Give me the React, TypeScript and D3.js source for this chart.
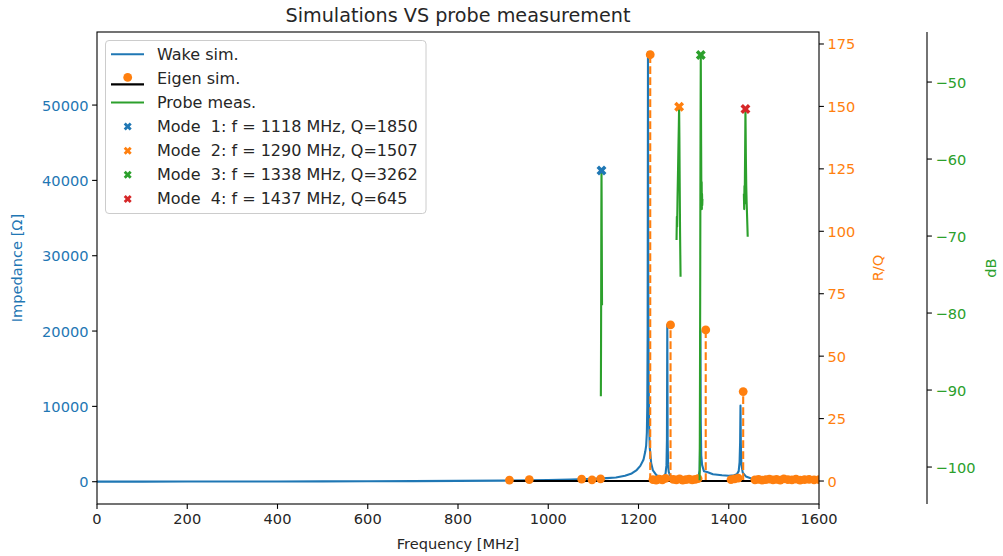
import React from "react";
import * as d3 from "d3";

// ---------- data ----------
const wakeFreq = [0, 100, 200, 300, 400, 500, 600, 700, 800, 900, 1000, 1050, 1100, 1130, 1150, 1170, 1185, 1196, 1204, 1211, 1215, 1217, 1218.5, 1219.5, 1220.3, 1221, 1221.7, 1222.5, 1223.5, 1225, 1228, 1232, 1240, 1250, 1256, 1260, 1262, 1263, 1263.8, 1264.6, 1265.6, 1267, 1270, 1278, 1290, 1305, 1320, 1328, 1333, 1335.5, 1336.6, 1337.3, 1338.0, 1339.0, 1341, 1345, 1352, 1365, 1385, 1400, 1412, 1418, 1422, 1424, 1425.2, 1426, 1426.8, 1428, 1431, 1438, 1450, 1480, 1520, 1560, 1600];
const wakeZ = [10, 15, 20, 25, 35, 45, 60, 80, 105, 145, 210, 270, 380, 480, 560, 800, 1100, 1550, 2100, 2900, 4000, 4800, 6500, 10000, 20000, 57000, 26000, 13000, 7500, 4500, 2500, 1500, 850, 600, 700, 1100, 2200, 5500, 20800, 5600, 2300, 1300, 800, 500, 380, 350, 400, 450, 700, 1500, 5000, 20000, 8000, 3500, 2200, 1400, 1300, 1000, 850, 800, 850, 1000, 1400, 2600, 5200, 10100, 5000, 2300, 1200, 700, 420, 260, 180, 140, 120];

const eigenFreq = [914, 958, 1074, 1097, 1116, 1226, 1232, 1239, 1246, 1253, 1260, 1271, 1277, 1284, 1291, 1298, 1305, 1312, 1319, 1326, 1332, 1349, 1405, 1413, 1421, 1432, 1458, 1466, 1474, 1482, 1490, 1498, 1506, 1514, 1522, 1531, 1540, 1549, 1558, 1568, 1578, 1589, 1600];
const eigenRQ = [0.4, 0.6, 0.8, 0.5, 0.9, 170.7, 0.6, 0.4, 0.8, 0.5, 1.1, 62.5, 0.7, 0.5, 0.9, 0.4, 0.6, 0.8, 0.5, 0.7, 1.0, 60.5, 0.6, 0.9, 1.2, 35.8, 0.5, 0.7, 0.4, 0.6, 0.8, 0.5, 0.7, 0.4, 0.9, 0.6, 0.5, 0.8, 0.4, 0.6, 0.7, 0.5, 0.6];

const probe1Freq = [1116.6, 1117.0, 1117.3, 1117.6, 1118.0, 1118.3, 1118.6, 1118.9, 1119.2];
const probe1Db = [-90.8, -84, -77, -68, -61.5, -65, -70, -74.5, -79];
const probe2Freq = [1284.3, 1285.0, 1285.6, 1286.5, 1287.6, 1288.6, 1289.4, 1290.0, 1290.6, 1291.3, 1292.1, 1293.2];
const probe2Db = [-70.5, -67.5, -68.8, -65, -61.5, -58, -55.5, -53.2, -57, -63, -69.5, -75.3];
const probe3Freq = [1335.5, 1335.9, 1336.3, 1336.7, 1337.1, 1337.5, 1338.0, 1338.4, 1338.8, 1339.2, 1339.6, 1340.0, 1340.4, 1340.8, 1341.3, 1341.7];
const probe3Db = [-101.7, -96, -88, -78, -66, -55, -46.5, -52, -58, -63, -65.5, -63, -66.5, -64.5, -66, -65.2];
const probe4Freq = [1433.5, 1434.2, 1434.8, 1435.3, 1435.8, 1436.3, 1436.7, 1437.0, 1437.4, 1438.0, 1438.8, 1439.6, 1440.4, 1441.2, 1442.0];
const probe4Db = [-64.5, -66.5, -63.5, -65.8, -62.5, -59, -56, -53.5, -56, -60, -63.5, -65.5, -67, -68.5, -70.1];

const modeFreq = [1118, 1290, 1338, 1437];
const modeDb = [-61.5, -53.2, -46.5, -53.5];
const modeQ = [1850, 1507, 3262, 645];
const modeColors = ["#1f77b4", "#ff7f0e", "#2ca02c", "#d62728"];

const xTicks = [0, 200, 400, 600, 800, 1000, 1200, 1400, 1600];
const zTicks = [0, 10000, 20000, 30000, 40000, 50000];
const rqTicks = [0, 25, 50, 75, 100, 125, 150, 175];
const dbTicks = [-100, -90, -80, -70, -60, -50];

// ---------- layout ----------
const W = 1003, H = 556;
const L = 97, R = 819, T = 32, B = 504;
const DB_SPINE = 927;
const C0 = "#1f77b4", C1 = "#ff7f0e", C2 = "#2ca02c";
const FONT = "DejaVu Sans, sans-serif";
const TICK_FS = 14.6;
const LEG_FS = 16;
const TICK_LEN = 4.9;

const x = d3.scaleLinear().domain([0, 1600]).range([L, R]);
const yZ = d3.scaleLinear().domain([-2960, 59700]).range([B, T]);
const yRQ = d3.scaleLinear().domain([-9.2, 179.8]).range([B, T]);
const yDB = d3.scaleLinear().domain([-104.8, -43.5]).range([B, T]);

const xSymbol = (size: number) => d3.symbol().type(d3.symbolCross).size(size)();

export default function App() {
  const wakeLine = d3.line<number>().x((_, i) => x(wakeFreq[i])).y((d) => yZ(d))(wakeZ) || "";
  const probes = [
    [probe1Freq, probe1Db],
    [probe2Freq, probe2Db],
    [probe3Freq, probe3Db],
    [probe4Freq, probe4Db],
  ].map(([f, v]) => d3.line<number>().x((_, i) => x(f[i])).y((d) => yDB(d))(v) || "");
  const eMin = d3.min(eigenFreq) as number;
  const eMax = d3.max(eigenFreq) as number;
  const legendRows = [54.3, 78.4, 102.5, 126.6, 150.7, 174.8, 198.9];
  const modeText = modeFreq.map((f, i) => `Mode  ${i + 1}: f = ${f} MHz, Q=${modeQ[i]}`);
  const X_SIZE = 62;

  return (
    <svg width={W} height={H} style={{ position: "absolute", left: 0, top: 0, background: "#fff" }} fontFamily={FONT}>
      <defs>
        <clipPath id="plotclip">
          <rect x={L} y={T} width={R - L} height={B - T} />
        </clipPath>
      </defs>
      <rect x={0} y={0} width={W} height={H} fill="#fff" />
      <g clipPath="url(#plotclip)">
        {/* wake sim */}
        <path d={wakeLine} fill="none" stroke={C0} strokeWidth={2.1} strokeLinejoin="round" />
        {/* eigen stems */}
        {eigenFreq.map((f, i) => (
          <line key={"s" + i} x1={x(f)} x2={x(f)} y1={yRQ(0)} y2={yRQ(eigenRQ[i])} stroke={C1} strokeWidth={2.1} strokeDasharray="7.7,3.3" />
        ))}
        <line x1={x(eMin)} x2={x(eMax)} y1={yRQ(0)} y2={yRQ(0)} stroke="#000" strokeWidth={2.1} />
        {eigenFreq.map((f, i) => (
          <circle key={"m" + i} cx={x(f)} cy={yRQ(eigenRQ[i])} r={4.4} fill={C1} />
        ))}
        {/* probe */}
        {probes.map((d, i) => (
          <path key={"p" + i} d={d} fill="none" stroke={C2} strokeWidth={2.1} strokeLinejoin="round" />
        ))}
        {modeFreq.map((f, i) => (
          <path key={"x" + i} d={xSymbol(X_SIZE) || ""} transform={`translate(${x(f)},${yDB(modeDb[i])}) rotate(45)`} fill={modeColors[i]} />
        ))}
      </g>

      {/* frame */}
      <rect x={L} y={T} width={R - L} height={B - T} fill="none" stroke="#000" strokeWidth={1.1} />
      <line x1={DB_SPINE} x2={DB_SPINE} y1={T} y2={B} stroke="#000" strokeWidth={1.1} />

      {/* x axis */}
      {xTicks.map((t) => (
        <g key={"xt" + t}>
          <line x1={x(t)} x2={x(t)} y1={B} y2={B + TICK_LEN} stroke="#000" strokeWidth={1.1} />
          <text x={x(t)} y={B + 8.5} textAnchor="middle" dominantBaseline="hanging" fontSize={TICK_FS} fill="#262626">{t}</text>
        </g>
      ))}
      <text x={(L + R) / 2} y={543} textAnchor="middle" dominantBaseline="central" fontSize={TICK_FS} fill="#262626">Frequency [MHz]</text>

      {/* left axis */}
      {zTicks.map((t) => (
        <g key={"zt" + t}>
          <line x1={L - TICK_LEN} x2={L} y1={yZ(t)} y2={yZ(t)} stroke="#000" strokeWidth={1.1} />
          <text x={L - 8.5} y={yZ(t)} textAnchor="end" dominantBaseline="central" fontSize={TICK_FS} fill={C0}>{t}</text>
        </g>
      ))}
      <text transform={`translate(16,${(T + B) / 2}) rotate(-90)`} textAnchor="middle" dominantBaseline="central" fontSize={TICK_FS} fill={C0}>Impedance [Ω]</text>

      {/* R/Q axis */}
      {rqTicks.map((t) => (
        <g key={"rq" + t}>
          <line x1={R} x2={R + TICK_LEN} y1={yRQ(t)} y2={yRQ(t)} stroke="#000" strokeWidth={1.1} />
          <text x={R + 8.5} y={yRQ(t)} textAnchor="start" dominantBaseline="central" fontSize={TICK_FS} fill={C1}>{t}</text>
        </g>
      ))}
      <text transform={`translate(877,${(T + B) / 2}) rotate(-90)`} textAnchor="middle" dominantBaseline="central" fontSize={TICK_FS} fill={C1}>R/Q</text>

      {/* dB axis */}
      {dbTicks.map((t) => (
        <g key={"db" + t}>
          <line x1={DB_SPINE} x2={DB_SPINE + TICK_LEN} y1={yDB(t)} y2={yDB(t)} stroke="#000" strokeWidth={1.1} />
          <text x={DB_SPINE + 8.5} y={yDB(t)} textAnchor="start" dominantBaseline="central" fontSize={TICK_FS} fill={C2}>{"\u2212" + Math.abs(t)}</text>
        </g>
      ))}
      <text transform={`translate(990,${(T + B) / 2}) rotate(-90)`} textAnchor="middle" dominantBaseline="central" fontSize={TICK_FS} fill={C2}>dB</text>

      {/* title */}
      <text x={(L + R) / 2} y={15} textAnchor="middle" dominantBaseline="central" fontSize={19.2} fill="#262626">Simulations VS probe measurement</text>

      {/* legend */}
      <rect x={105.5} y={40.5} width={320.5} height={173} rx={3.5} fill="#fff" fillOpacity={0.8} stroke="#cccccc" strokeWidth={1} />
      <line x1={111} x2={144} y1={legendRows[0]} y2={legendRows[0]} stroke={C0} strokeWidth={2.1} />
      <text x={157} y={legendRows[0]} dominantBaseline="central" fontSize={LEG_FS} fill="#262626">Wake sim.</text>
      <line x1={111} x2={144} y1={legendRows[1] + 6} y2={legendRows[1] + 6} stroke="#000" strokeWidth={2.1} />
      <circle cx={127.7} cy={legendRows[1] - 1} r={4.4} fill={C1} />
      <text x={157} y={legendRows[1]} dominantBaseline="central" fontSize={LEG_FS} fill="#262626">Eigen sim.</text>
      <line x1={111} x2={144} y1={legendRows[2]} y2={legendRows[2]} stroke={C2} strokeWidth={2.1} />
      <text x={157} y={legendRows[2]} dominantBaseline="central" fontSize={LEG_FS} fill="#262626">Probe meas.</text>
      {modeText.map((s, i) => (
        <g key={"lg" + i}>
          <path d={xSymbol(40) || ""} transform={`translate(127.7,${legendRows[3 + i]}) rotate(45)`} fill={modeColors[i]} />
          <text x={157} y={legendRows[3 + i]} dominantBaseline="central" fontSize={LEG_FS} fill="#262626" style={{ whiteSpace: "pre" }}>{s}</text>
        </g>
      ))}
    </svg>
  );
}
